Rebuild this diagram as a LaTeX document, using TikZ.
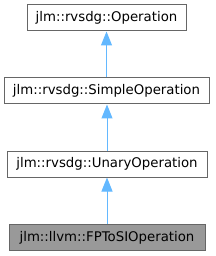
\documentclass[tikz,border=0pt]{standalone}
\usepackage{fontspec}
\setmainfont{DejaVu Sans}
\usetikzlibrary{arrows.meta}
\definecolor{edgeblue}{HTML}{63B8FF}
\definecolor{boxborder}{HTML}{666666}
\definecolor{focusfill}{HTML}{999999}
\begin{document}
\begin{tikzpicture}[x=1pt,y=-1pt,
  cls/.style={draw=boxborder, line width=1pt, fill=white, inner sep=0pt, minimum height=26pt, font=\fontsize{13.3}{15}\selectfont},
  focus/.style={cls, fill=focusfill},
  inh/.style={draw=edgeblue, line width=1pt, -{Triangle[length=14pt,width=11pt,fill=edgeblue]}}]
\useasboundingbox (0,0) rectangle (215,256);
\node[cls, minimum width=159pt] (op) at (106.5,18) {jlm::rvsdg::Operation};
\node[cls, minimum width=205pt] (sop) at (106.5,91) {jlm::rvsdg::SimpleOperation};
\node[cls, minimum width=200pt] (uop) at (107,164) {jlm::rvsdg::UnaryOperation};
\node[focus, minimum width=196pt] (fp) at (107,237.5) {jlm::llvm::FPToSIOperation};
\draw[inh] (sop.north -| op.south) -- (op.south);
\draw[inh] (uop.north) -- (sop.south -| uop.north);
\draw[inh] (fp.north) -- (uop.south -| fp.north);
\end{tikzpicture}
\end{document}
